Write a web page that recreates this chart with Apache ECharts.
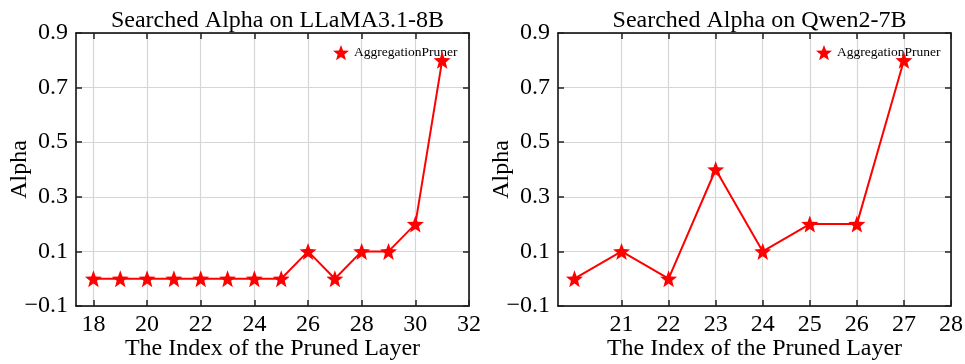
<!DOCTYPE html>
<html><head><meta charset="utf-8">
<script src="https://cdn.jsdelivr.net/npm/echarts@6/dist/echarts.min.js"></script>
<style>html,body{margin:0;padding:0;background:#fff}#c{width:965px;height:364px}</style>
</head><body><div id="c"></div>
<script>
const seriesName = 'AggregationPruner';
const llamaLayers = [18,19,20,21,22,23,24,25,26,27,28,29,30,31];
const llamaAlpha  = [0,0,0,0,0,0,0,0,0.1,0,0.1,0.1,0.2,0.8];
const qwenLayers  = [20,21,22,23,24,25,26,27];
const qwenAlpha   = [0,0.1,0,0.4,0.1,0.2,0.2,0.8];
const llamaXTicks = [18,20,22,24,26,28,30,32];
const qwenXTicks  = [21,22,23,24,25,26,27,28];
const yTicks      = [-0.1,0.1,0.3,0.5,0.7,0.9];
const titles = ['Searched Alpha on LLaMA3.1-8B','Searched Alpha on Qwen2-7B'];

function starPath(){
  let d='';
  for(let k=0;k<10;k++){
    const r = k%2===0?1:0.42;
    const a = (-90 + k*36)*Math.PI/180;
    const x=(r*Math.cos(a)*50+50).toFixed(2), y=(r*Math.sin(a)*50+50).toFixed(2);
    d += (k===0?'M':'L')+x+' '+y+' ';
  }
  return 'path://'+d+'Z';
}
const STAR = starPath();
const FONT = 'Liberation Serif';
const FS = 24;
const RED = '#ff0000';
const fmt = v => (Math.round(v*10)/10).toString().replace('-','\u2212');

const grids = [
  {left:76, top:33, width:393, height:273, outerBoundsMode:'none', containLabel:false},
  {left:558, top:33, width:393, height:273, outerBoundsMode:'none', containLabel:false}
];
const xr = [[17.35,32],[19.65,28]];
const xt = [llamaXTicks, qwenXTicks];

const xAxis=[], yAxis=[];
for(let g=0;g<2;g++){
  xAxis.push({type:'value', gridIndex:g, min:xr[g][0], max:xr[g][1], position:'bottom',
    axisLine:{show:true,onZero:false,lineStyle:{color:'#000',width:1.5}},
    axisTick:{show:true,inside:true,length:6,customValues:xt[g],lineStyle:{color:'#222',width:1.5}},
    axisLabel:{show:true,customValues:xt[g],fontFamily:FONT,fontSize:FS,color:'#000',margin:7,formatter:v=>String(v),hideOverlap:false},
    splitLine:{show:true,lineStyle:{color:'#d6d6d6',width:1.2}},
    name:'The Index of the Pruned Layer', nameLocation:'middle', nameGap:31, nameMoveOverlap:false,
    nameTextStyle:{fontFamily:FONT,fontSize:FS,color:'#000'}
  });
  xAxis.push({type:'value', gridIndex:g, min:xr[g][0], max:xr[g][1], position:'top',
    axisLine:{show:true,onZero:false,lineStyle:{color:'#000',width:1.5}},
    axisTick:{show:true,inside:true,length:6,customValues:xt[g],lineStyle:{color:'#222',width:1.5}},
    axisLabel:{show:false,customValues:xt[g]}, splitLine:{show:false}
  });
  yAxis.push({type:'value', gridIndex:g, min:-0.1, max:0.9, position:'left',
    axisLine:{show:true,onZero:false,lineStyle:{color:'#000',width:1.5}},
    axisTick:{show:true,inside:true,length:6,customValues:yTicks,lineStyle:{color:'#222',width:1.5}},
    axisLabel:{show:true,customValues:yTicks,fontFamily:FONT,fontSize:FS,color:'#000',margin:8,formatter:fmt,hideOverlap:false},
    splitLine:{show:true,lineStyle:{color:'#d6d6d6',width:1.2}},
    name:'Alpha', nameLocation:'middle', nameGap:44, nameMoveOverlap:false,
    nameTextStyle:{fontFamily:FONT,fontSize:FS,color:'#000'}
  });
  yAxis.push({type:'value', gridIndex:g, min:-0.1, max:0.9, position:'right',
    axisLine:{show:true,onZero:false,lineStyle:{color:'#000',width:1.5}},
    axisTick:{show:true,inside:true,length:6,customValues:yTicks,lineStyle:{color:'#222',width:1.5}},
    axisLabel:{show:false,customValues:yTicks}, splitLine:{show:false}
  });
}

function pairs(xs,ys){return xs.map((x,i)=>[x,ys[i]]);}
const mkSeries = (g,data)=>({
  name:seriesName, type:'line', xAxisIndex:g*2, yAxisIndex:g*2, data:data,
  symbol:STAR, symbolSize:17, showSymbol:true,
  itemStyle:{color:RED}, lineStyle:{color:RED,width:2}, animation:false, z:5
});

const option = {
  animation:false,
  title: titles.map((t,i)=>({text:t, left:grids[i].left+grids[i].width/2, top:4, textAlign:'center',
    textStyle:{fontFamily:FONT,fontSize:FS,fontWeight:'normal',color:'#000'}})),
  legend:[
    {data:[seriesName], left:328, top:40, itemWidth:16, itemHeight:16, itemGap:4, icon:STAR,
      textStyle:{fontFamily:FONT,fontSize:13.5,color:'#000'}, selectedMode:false},
    {data:[seriesName], left:811, top:40, itemWidth:16, itemHeight:16, itemGap:4, icon:STAR,
      textStyle:{fontFamily:FONT,fontSize:13.5,color:'#000'}, selectedMode:false}
  ],
  grid:grids,
  xAxis:xAxis, yAxis:yAxis,
  series:[mkSeries(0,pairs(llamaLayers,llamaAlpha)), mkSeries(1,pairs(qwenLayers,qwenAlpha))]
};
const chart = echarts.init(document.getElementById('c'),null,{renderer:'canvas'});
chart.setOption(option);
</script></body></html>
